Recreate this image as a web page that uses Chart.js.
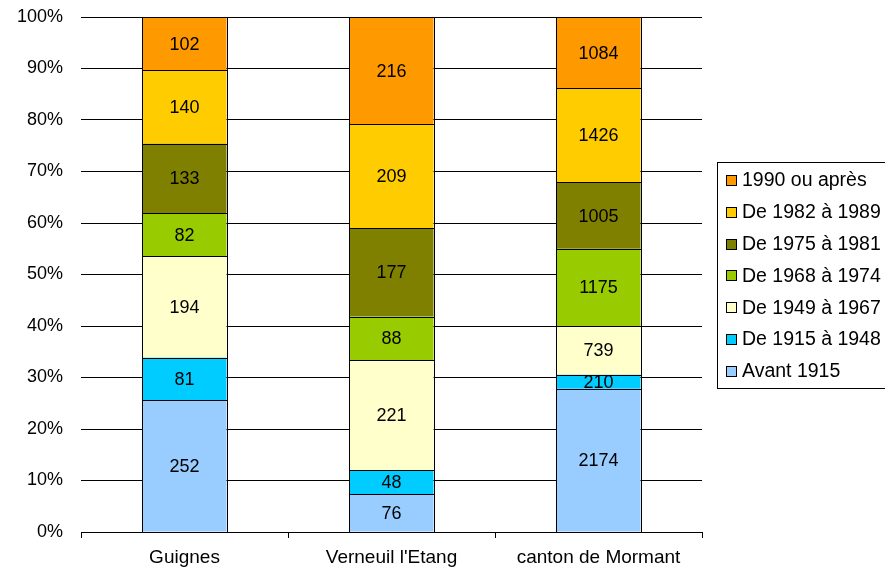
<!DOCTYPE html>
<html lang="fr">
<head>
<meta charset="UTF-8">
<title>Logements par période de construction</title>
<script src="https://cdn.jsdelivr.net/npm/chart.js"></script>
<style>
    html, body { margin: 0; padding: 0; background: #fff; }
    #wrap { width: 885px; height: 571px; }
</style>
</head>
<body>
<div id="wrap"><canvas id="chart" width="885" height="571"></canvas></div>
<script>
    const communes = ['Guignes', "Verneuil l'Etang", 'canton de Mormant'];

    const periodes = ['Avant 1915', 'De 1915 à 1948', 'De 1949 à 1967', 'De 1968 à 1974',
                      'De 1975 à 1981', 'De 1982 à 1989', '1990 ou après'];

    // nombre de logements par période, une ligne par commune
    const avant1915 = [252, 76, 2174];
    const de1915 = [81, 48, 210];
    const de1949 = [194, 221, 739];
    const de1968 = [82, 88, 1175];
    const de1975 = [133, 177, 1005];
    const de1982 = [140, 209, 1426];
    const apres1990 = [102, 216, 1084];

    const couleurs = ['#99CCFF', '#00CCFF', '#FFFFCC', '#99CC00', '#808000', '#FFCC00', '#FF9900'];

    const yTicks = [0, 10, 20, 30, 40, 50, 60, 70, 80, 90, 100];

    const series = [avant1915, de1915, de1949, de1968, de1975, de1982, apres1990];
    const totals = communes.map((c, i) => series.reduce((s, arr) => s + arr[i], 0));

    const FONT = '"Liberation Sans", Arial, sans-serif';

    const datasets = series.map((arr, k) => ({
        label: periodes[k],
        counts: arr,
        data: arr.map((v, i) => v / totals[i] * 100),
        backgroundColor: couleurs[k],
        borderWidth: 0,
        categoryPercentage: 1,
        barPercentage: 0.406
    }));

    // contour noir net de chaque segment, puis effectif écrit au centre
    const valeurs = {
        id: 'valeurs',
        afterDatasetsDraw(chart) {
            const ctx = chart.ctx;
            ctx.save();
            ctx.strokeStyle = '#000';
            ctx.lineWidth = 1;
            chart.data.datasets.forEach((ds, k) => {
                chart.getDatasetMeta(k).data.forEach(bar => {
                    const x1 = Math.round(bar.x - bar.width / 2);
                    const x2 = Math.round(bar.x + bar.width / 2);
                    const y1 = Math.round(Math.min(bar.y, bar.base));
                    const y2 = Math.round(Math.max(bar.y, bar.base));
                    ctx.strokeRect(x1 + 0.5, y1 + 0.5, x2 - x1, y2 - y1);
                });
            });
            ctx.font = '18px ' + FONT;
            ctx.fillStyle = '#000';
            ctx.textAlign = 'center';
            ctx.textBaseline = 'middle';
            chart.data.datasets.forEach((ds, k) => {
                chart.getDatasetMeta(k).data.forEach((bar, i) => {
                    const mid = (bar.y + bar.base) / 2;
                    ctx.fillText(String(ds.counts[i]), bar.x, mid + 1);
                });
            });
            ctx.restore();
        }
    };

    // légende encadrée à droite, de la période la plus récente à la plus ancienne
    const legende = {
        id: 'legende',
        afterDraw(chart) {
            const ctx = chart.ctx;
            const x0 = 717, y0 = 162, w = 168, h = 226;
            ctx.save();
            ctx.strokeStyle = '#000';
            ctx.lineWidth = 1;
            ctx.strokeRect(x0 + 0.5, y0 + 0.5, w, h);
            ctx.font = '19.5px ' + FONT;
            ctx.textBaseline = 'middle';
            ctx.textAlign = 'left';
            const ds = chart.data.datasets.slice().reverse();
            ds.forEach((d, j) => {
                const cy = 180 + j * 31.8;
                const by = Math.round(cy - 5);
                ctx.fillStyle = d.backgroundColor;
                ctx.fillRect(726, by, 11, 11);
                ctx.strokeRect(726.5, by + 0.5, 10, 10);
                ctx.fillStyle = '#000';
                ctx.fillText(d.label, 742, cy + 1);
            });
            ctx.restore();
        }
    };

    new Chart(document.getElementById('chart'), {
        type: 'bar',
        data: { labels: communes, datasets },
        plugins: [valeurs, legende],
        options: {
            responsive: false,
            animation: false,
            layout: { padding: { left: 0, top: 17, right: 183, bottom: 0 } },
            plugins: {
                legend: { display: false },
                tooltip: { enabled: false }
            },
            scales: {
                x: {
                    stacked: true,
                    afterFit: s => { s.height = 39; s.paddingLeft = 0; s.paddingRight = 0; },
                    grid: {
                        offset: true,
                        drawOnChartArea: false,
                        drawTicks: true,
                        tickLength: 6,
                        color: '#000'
                    },
                    border: { color: '#000', width: 1 },
                    ticks: { color: '#000', font: { family: FONT, size: 19 }, padding: 8 }
                },
                y: {
                    stacked: true,
                    min: 0,
                    max: 100,
                    afterFit: s => { s.width = 81; s.paddingTop = 0; s.paddingBottom = 0; },
                    afterBuildTicks: s => { s.ticks = yTicks.map(v => ({ value: v })); },
                    grid: { color: '#000', drawTicks: false },
                    border: { display: false },
                    ticks: {
                        color: '#000',
                        padding: 18,
                        font: { family: FONT, size: 18 },
                        callback: v => v + '%'
                    }
                }
            }
        }
    });
</script>
</body>
</html>
